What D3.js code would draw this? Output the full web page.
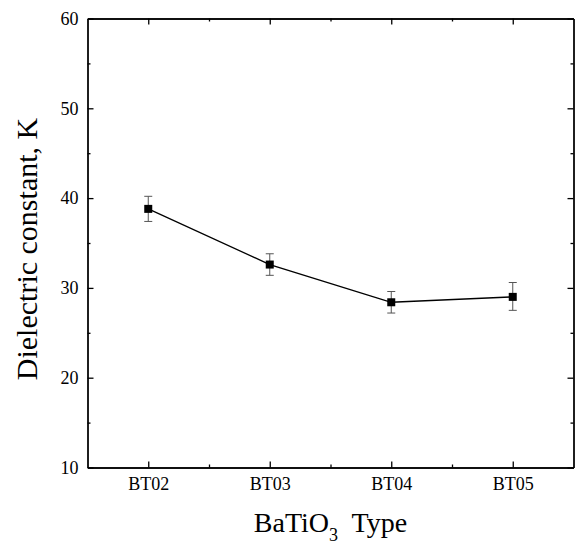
<!DOCTYPE html>
<html>
<head>
<meta charset="utf-8">
<script src="https://cdn.jsdelivr.net/npm/d3@7"></script>
<style>
  body { margin: 0; background: #fff; }
  .axis text { font-family: "Liberation Serif", "DejaVu Serif", serif; font-size: 18px; fill: #000; }
  .axis path, .axis line { stroke: #000; stroke-width: 1.3; }
  .title { font-family: "Liberation Serif", "DejaVu Serif", serif; fill: #000; }
</style>
</head>
<body>
<div class="chart"></div>
<script>
// data
const types = ["BT02", "BT03", "BT04", "BT05"];
const kValues = [38.8, 32.6, 28.4, 29.0];
const errLow = [37.4, 31.4, 27.2, 27.5];
const errHigh = [40.2, 33.8, 29.6, 30.6];
const yTicks = [10, 20, 30, 40, 50, 60];
const yMinor = [15, 25, 35, 45, 55];

const margin = ({top: 18.5, right: 1.5, bottom: 76.5, left: 87.5});
const width = 575 - margin.left - margin.right;
const height = 544 - margin.top - margin.bottom;

const svg = d3.select('.chart').append('svg')
    .attr("width", 575)
    .attr("height", 544)
  .append("g")
    .attr("transform", `translate(${margin.left},${margin.top})`);

const xScale = d3.scaleLinear()
    .domain([-0.5, types.length - 0.5])
    .range([0, width]);

const yScale = d3.scaleLinear()
    .domain([10, 60])
    .range([height, 0]);

const idx = types.map((d, i) => i);
const xMinor = idx.slice(1).map(i => i - 0.5);

// major + minor ticks, all pointing inward
const xAxis = d3.axisBottom(xScale).tickValues(idx).tickFormat(i => types[i])
    .tickSizeInner(-6).tickSizeOuter(0).tickPadding(10);
const yAxis = d3.axisLeft(yScale).tickValues(yTicks)
    .tickSizeInner(-6).tickSizeOuter(0).tickPadding(9);

svg.append("g").attr("class", "axis x-axis")
    .attr("transform", `translate(0,${height})`).call(xAxis);
svg.append("g").attr("class", "axis")
    .attr("transform", `translate(0,${height})`)
    .call(d3.axisBottom(xScale).tickValues(xMinor).tickFormat("").tickSize(-3).tickSizeOuter(0));
svg.append("g").attr("class", "axis")
    .call(d3.axisTop(xScale).tickValues(idx).tickFormat("").tickSize(-6).tickSizeOuter(0));
svg.append("g").attr("class", "axis")
    .call(d3.axisTop(xScale).tickValues(xMinor).tickFormat("").tickSize(-3).tickSizeOuter(0));

svg.append("g").attr("class", "axis y-axis").call(yAxis);
svg.append("g").attr("class", "axis")
    .call(d3.axisLeft(yScale).tickValues(yMinor).tickFormat("").tickSize(-3).tickSizeOuter(0));
svg.append("g").attr("class", "axis")
    .attr("transform", `translate(${width},0)`)
    .call(d3.axisRight(yScale).tickValues(yTicks).tickFormat("").tickSize(-6).tickSizeOuter(0));
svg.append("g").attr("class", "axis")
    .attr("transform", `translate(${width},0)`)
    .call(d3.axisRight(yScale).tickValues(yMinor).tickFormat("").tickSize(-3).tickSizeOuter(0));

const pts = types.map((t, i) => ({i: i, k: kValues[i], lo: errLow[i], hi: errHigh[i]}));

// error bars
const eb = svg.selectAll('.err').data(pts).enter().append('g')
    .attr('class', 'err')
    .attr('stroke', '#555').attr('stroke-width', 1);
eb.append('line')
    .attr('x1', d => xScale(d.i)).attr('x2', d => xScale(d.i))
    .attr('y1', d => yScale(d.lo)).attr('y2', d => yScale(d.hi));
eb.append('line')
    .attr('x1', d => xScale(d.i) - 4).attr('x2', d => xScale(d.i) + 4)
    .attr('y1', d => yScale(d.lo)).attr('y2', d => yScale(d.lo));
eb.append('line')
    .attr('x1', d => xScale(d.i) - 4).attr('x2', d => xScale(d.i) + 4)
    .attr('y1', d => yScale(d.hi)).attr('y2', d => yScale(d.hi));

const line = d3.line().x(d => xScale(d.i)).y(d => yScale(d.k));
svg.append('path')
    .datum(pts)
    .attr('d', line)
    .attr('fill', 'none')
    .attr('stroke', '#000')
    .attr('stroke-width', 1.3);

svg.selectAll('.pt').data(pts).enter().append('rect')
    .attr('class', 'pt')
    .attr('x', d => xScale(d.i) - 4)
    .attr('y', d => yScale(d.k) - 4)
    .attr('width', 8).attr('height', 8)
    .attr('fill', '#000');

// axis titles
svg.append('text')
    .attr('class', 'title')
    .style('font-size', '30px')
    .attr('transform', `translate(${-51},${height / 2 + 6}) rotate(-90)`)
    .style('text-anchor', 'middle')
    .text("Dielectric constant, K");

const xt = svg.append('text')
    .attr('class', 'title')
    .style('font-size', '28px')
    .attr('x', width / 2)
    .attr('y', height + 64)
    .style('text-anchor', 'middle');
xt.append('tspan').text("BaTiO");
xt.append('tspan').attr('dy', 9).style('font-size', '18px').text("3");
xt.append('tspan').attr('dy', -9).text("\u00a0 Type");
</script>
</body>
</html>
